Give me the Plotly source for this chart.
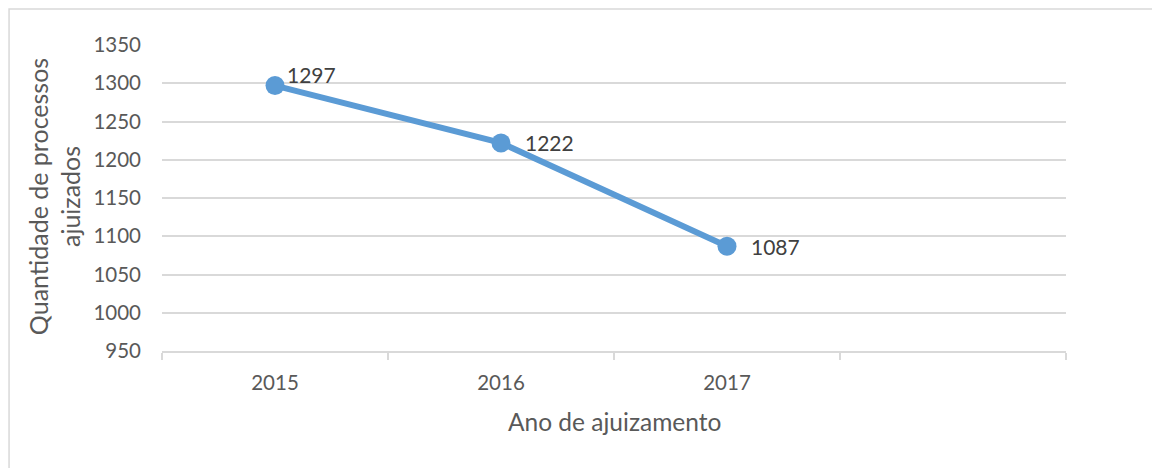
import plotly.graph_objects as go

years = ["2015", "2016", "2017"]
values = [1297, 1222, 1087]
y_ticks = [950, 1000, 1050, 1100, 1150, 1200, 1250, 1300, 1350]
x_title = "Ano de ajuizamento"
y_title = "Quantidade de processos<br>ajuizados"

FONT = "Lato, Liberation Sans, sans-serif"
GRID = "#D9D9D9"
LINE = "#5B9BD5"

xs = list(range(len(years)))
n_cats = len(years) + 1  # Excel axis has an empty fourth category

fig = go.Figure()
fig.add_trace(go.Scatter(
    x=xs, y=values, mode="lines+markers",
    line=dict(color=LINE, width=6),
    marker=dict(color=LINE, size=19),
    hoverinfo="skip", showlegend=False,
))

# data labels
for i, (x, v) in enumerate(zip(xs, values)):
    fig.add_annotation(
        x=x, y=v, text=str(v), showarrow=False,
        xanchor="left", yanchor="middle",
        xshift=10 if i == 0 else 22,
        yshift=11 if i == 0 else 0,
        font=dict(family=FONT, size=21, color="#404040"),
    )

# page body has an 8px margin; compensate so the plot lands where the reference has it
fig.update_layout(
    width=1152, height=460,
    margin=dict(l=154, r=94, t=37, b=117),
    paper_bgcolor="white", plot_bgcolor="white",
    font=dict(family=FONT, size=21, color="#595959"),
    showlegend=False,
)

fig.update_xaxes(
    range=[-0.5, n_cats - 0.5],
    tickvals=xs, ticktext=years,
    showgrid=False, zeroline=False,
    showline=True, linecolor=GRID, linewidth=1.5,
    ticks="", ticklabelstandoff=13,
    minor=dict(tickvals=[k - 0.5 for k in range(n_cats + 1)],
               ticks="outside", ticklen=7, tickcolor=GRID, tickwidth=1.5,
               showgrid=False),
    tickfont=dict(family=FONT, size=20.5, color="#595959"),
)
fig.update_yaxes(
    range=[y_ticks[0], y_ticks[-1]],
    tickvals=y_ticks,
    showgrid=True, gridcolor=GRID, gridwidth=1.5,
    zeroline=False, showline=False, ticks="",
    ticklabelstandoff=20,
    tickfont=dict(family=FONT, size=20.5, color="#595959"),
)

# axis titles
fig.add_annotation(
    xref="paper", yref="paper", x=-0.1195, y=0.506,
    text=y_title, textangle=-90, showarrow=False,
    xanchor="center", yanchor="middle",
    font=dict(family=FONT, size=25, color="#595959"),
)
fig.add_annotation(
    xref="paper", yref="paper", x=0.5, y=-0.229,
    text=x_title, showarrow=False,
    xanchor="center", yanchor="middle",
    font=dict(family=FONT, size=24.5, color="#595959"),
)

# chart area border
fig.add_shape(
    type="rect", xref="paper", yref="paper",
    x0=-0.1692, x1=1.2, y0=-0.6, y1=1.1176,
    line=dict(color=GRID, width=1.5), fillcolor="rgba(0,0,0,0)",
    layer="below",
)

fig.write_html("out.html")
